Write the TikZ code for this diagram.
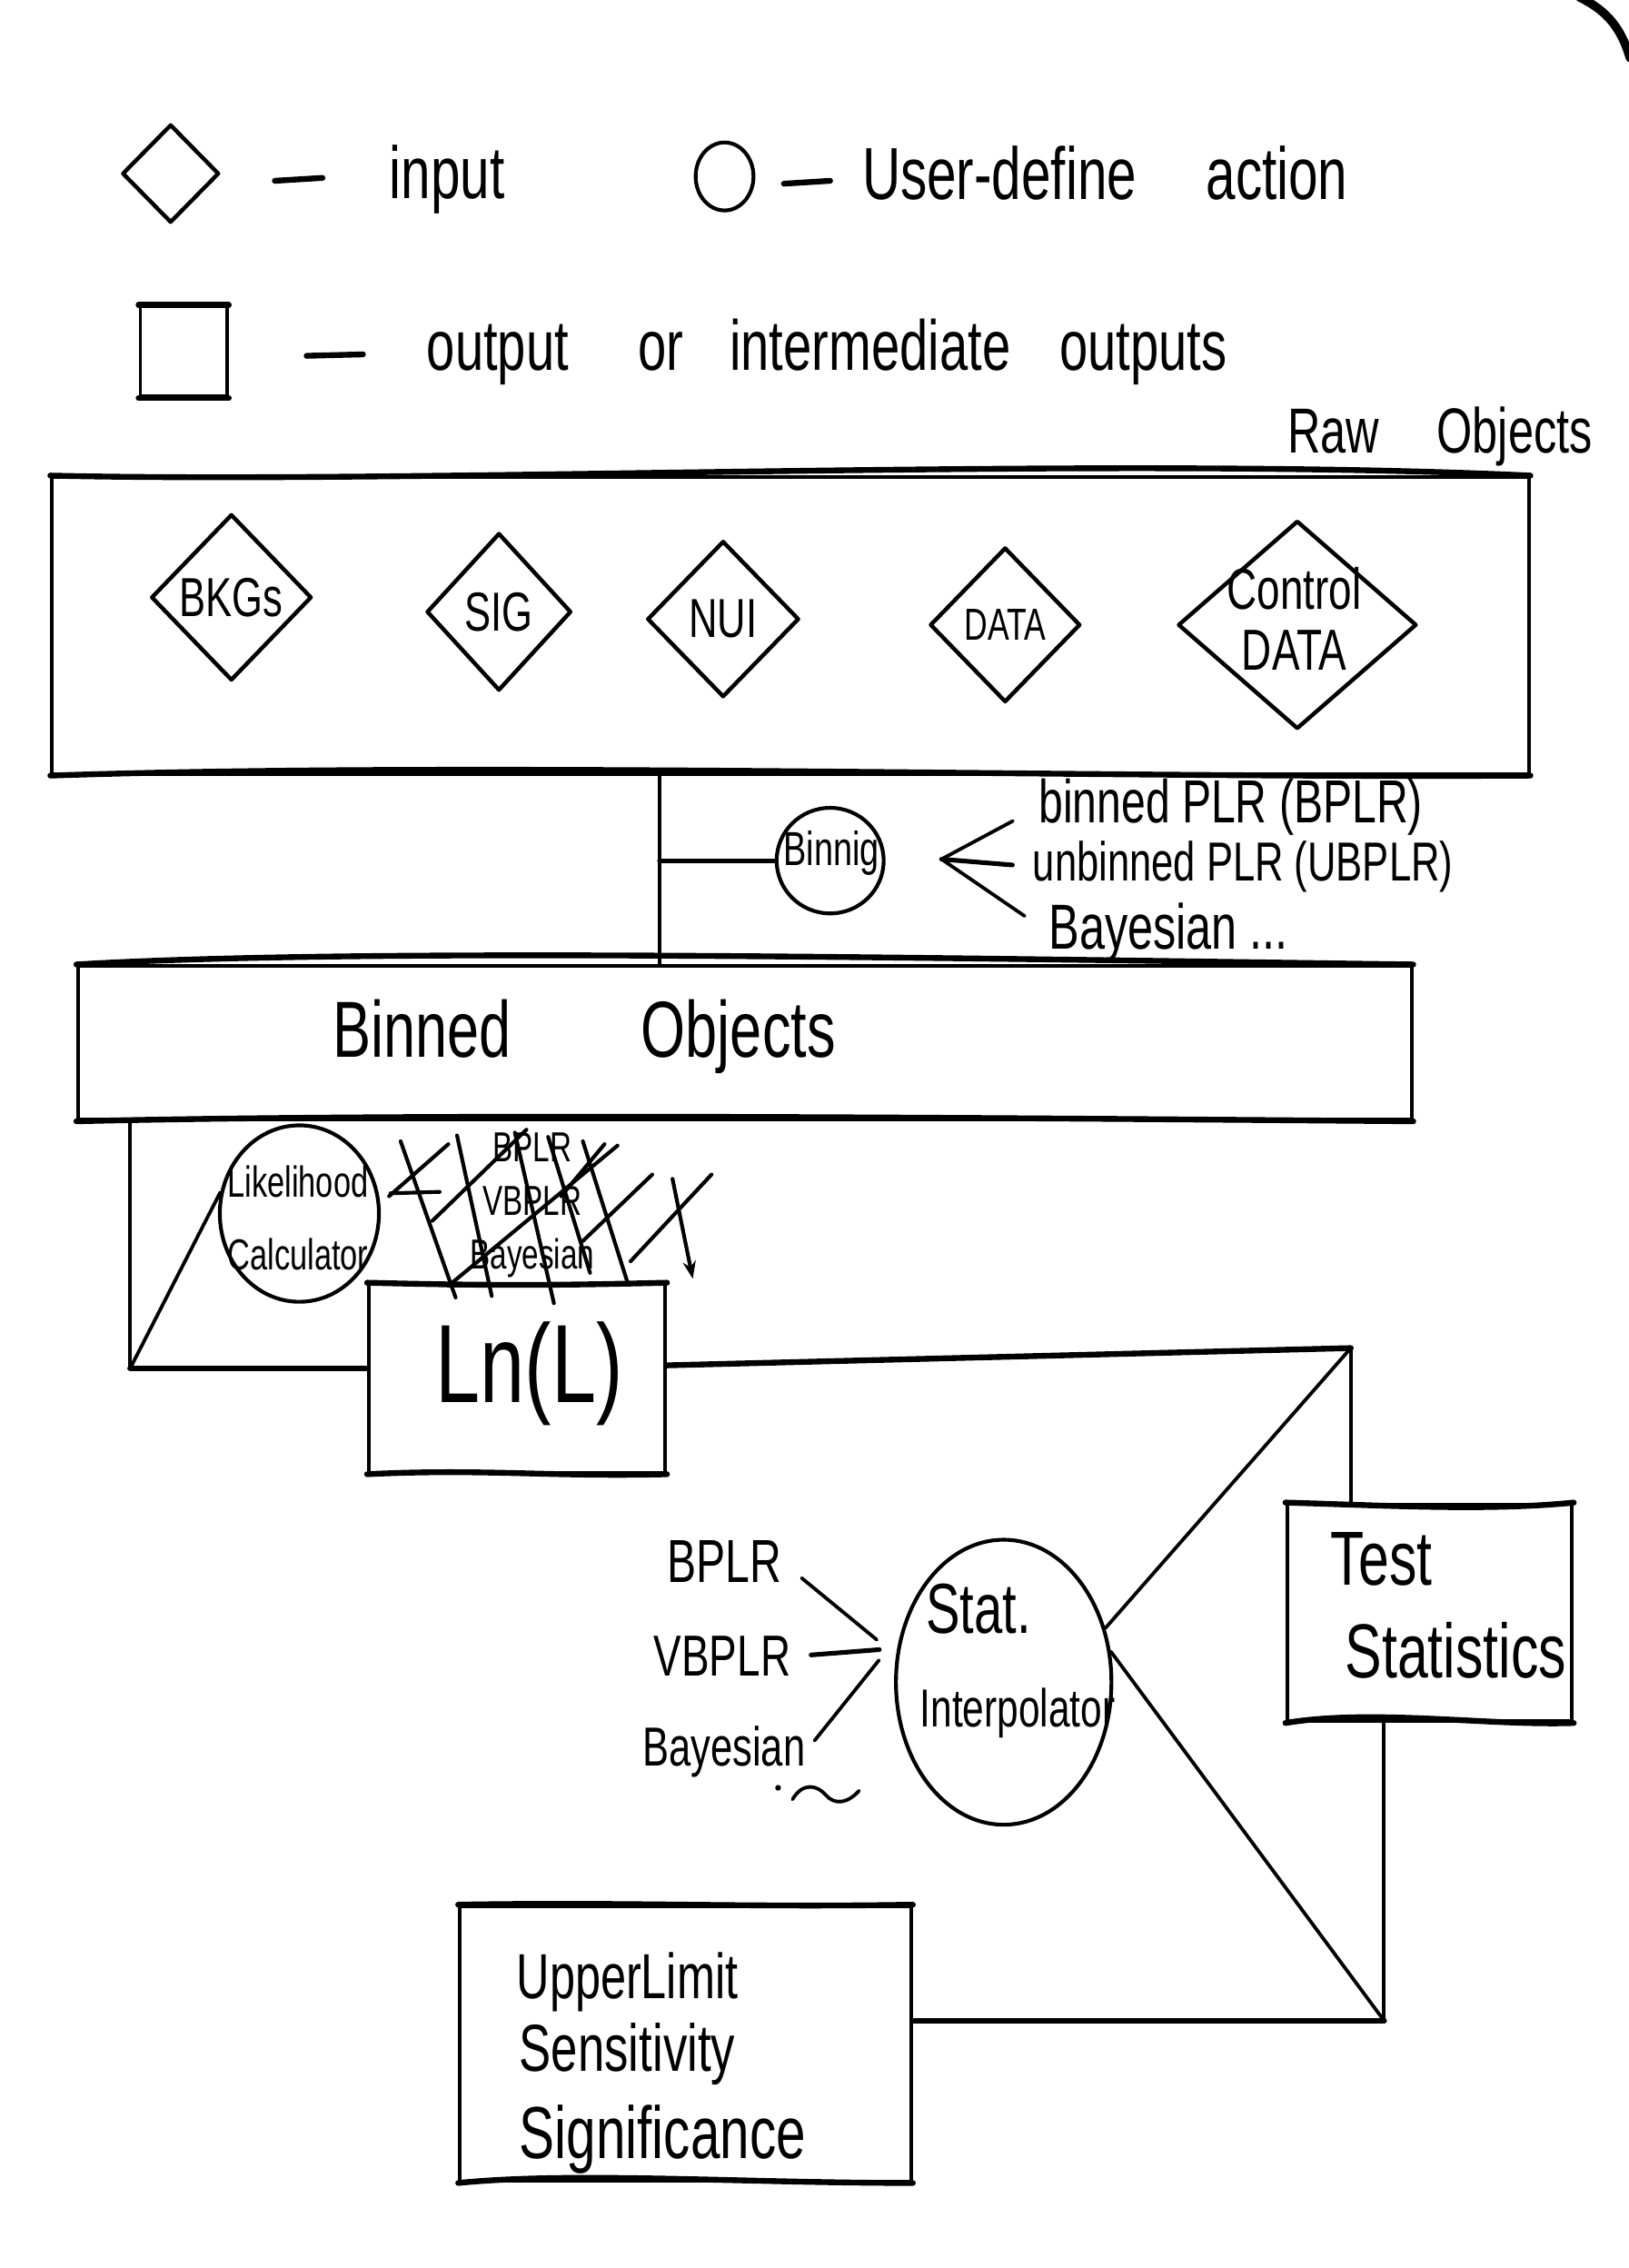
\documentclass[tikz,border=0pt]{standalone}
\usepackage{fontspec}
\setmainfont{Liberation Sans}[FakeStretch=0.72]
\usetikzlibrary{shapes.geometric,arrows.meta,calc}
\newcommand{\fsz}[2]{\fontsize{#1}{#2}\selectfont}
\tikzset{
  pen/.style={line width=2.4pt, line cap=round, line join=round},
  rim/.style={line width=4pt, line cap=round, line join=round},
  conn/.style={pen},
  inputd/.style={diamond, draw, line width=2.8pt, line join=round, inner sep=0pt},
  actione/.style={ellipse, draw, line width=2.6pt, inner sep=0pt},
  outbox/.style={rectangle, draw, pen, inner sep=0pt},
  txt/.style={inner sep=0pt, align=center},
  strike/.style={line width=2.6pt, line cap=round},
}
\begin{document}
\begin{tikzpicture}[x=1pt,y=-1pt]
\useasboundingbox (0,0) rectangle (1126,1568);

% ---------- legend ----------
\node[inputd, minimum width=67pt, minimum height=68pt] (legd) at (118,120) {};
\draw[rim] (190,125) -- (223,123);
\node[txt, font=\fsz{51}{57}, anchor=base west] (legin) at (269,137) {input};

\node[actione, minimum width=40pt, minimum height=47pt] (lego) at (501,122) {};
\draw[rim] (542,127) -- (574,125);
\node[txt, font=\fsz{51}{57}, anchor=base west] (legua) at (596,138) {User-define\hspace{48pt}action};

\node[outbox, minimum width=60pt, minimum height=62pt] (legs) at (127,243) {};
\draw[rim] (legs.north west) -- (legs.north east);
\draw[rim] (legs.south west) -- (legs.south east);
\draw[rim] (212,246) -- (251,245);
\node[txt, font=\fsz{49}{55}, anchor=base west] (legout) at (295,256)
  {output\hspace{48pt}or\hspace{32pt}intermediate\hspace{34pt}outputs};

% ---------- raw objects ----------
\node[txt, font=\fsz{44}{50}, anchor=base west] (rawt) at (890,313) {Raw\hspace{40pt}Objects};
\node[outbox, minimum width=1021pt, minimum height=205pt] (raw) at (546.5,432.5) {};
\draw[rim] (raw.north west) .. controls +(260,6) and +(-300,-14) .. (raw.north east);
\draw[rim] (raw.south west) .. controls +(300,-10) and +(-300,2) .. (raw.south east);

\node[inputd, minimum width=111pt, minimum height=115pt] (bkgs) at (160,413) {};
\node[txt, font=\fsz{38}{44}] (bkgst) at (bkgs) {BKGs};
\node[inputd, minimum width=100pt, minimum height=109pt] (sig) at (345,423) {};
\node[txt, font=\fsz{38}{44}] (sigt) at (sig) {SIG};
\node[inputd, minimum width=105pt, minimum height=108pt] (nui) at (500,428) {};
\node[txt, font=\fsz{38}{44}] (nuit) at (nui) {NUI};
\node[inputd, minimum width=104pt, minimum height=107pt] (data) at (695,432) {};
\node[txt, font=\fsz{31}{36}] (datat) at (data) {DATA};
\node[inputd, minimum width=165pt, minimum height=144pt] (cdata) at (897,432) {};
\node[txt, font=\fsz{40}{42}] (cdatat) at (895,428) {Control\\DATA};

% ---------- binning ----------
\node[actione, minimum width=74pt, minimum height=73pt] (binning) at (574,595) {};
\node[txt, font=\fsz{33}{37}] (binningt) at (575,590) {Binnig};
\node[txt, font=\fsz{42}{48}, anchor=base west] (t1) at (718,569) {binned PLR (BPLR)};
\node[txt, font=\fsz{38}{44}, anchor=base west] (t2) at (714,609) {unbinned PLR (UBPLR)};
\node[txt, font=\fsz{44}{50}, anchor=base west] (t3) at (725,656) {Bayesian ...};

% ---------- binned objects ----------
\node[outbox, minimum width=922pt, minimum height=106pt] (bin) at (515,721) {};
\draw[rim] (bin.north west) .. controls +(200,-12) and +(-300,-4) .. (bin.north east);
\draw[rim] (bin.south west) .. controls +(250,-6) and +(-250,-2) .. (bin.south east);
\node[txt, font=\fsz{55}{60}, anchor=base west] (bint) at (230,731) {Binned\hspace{90pt}Objects};

% ---------- likelihood ----------
\node[actione, minimum width=110pt, minimum height=122pt] (lc) at (207,839) {};
\node[txt, font=\fsz{30}{50}] (lct) at (206,842) {Likelihood\\Calculator};

\node[txt, font=\fsz{29}{37}] (xo) at (368,833) {BPLR\\VBPLR\\Bayesian};
\draw[strike] (277,789) -- (315,897);
\draw[strike] (269,827) -- (310,791);
\draw[strike] (270,825) -- (304,824);
\draw[strike] (316,785) -- (340,896);
\draw[strike] (299,844) -- (364,781);
\draw[strike] (310,889) -- (427,792);
\draw[strike] (356,783) -- (383,901);
\draw[strike] (379,786) -- (408,880);
\draw[strike] (388,827) -- (418,791);
\draw[strike] (403,858) -- (451,812);
\draw[strike] (403,789) -- (434,887);
\draw[strike] (436,872) -- (492,812);
\draw[strike, -{Stealth[length=12pt,width=9pt]}] (465,815) -- (479,884);

\node[outbox, minimum width=205pt, minimum height=130pt] (lnl) at (357.5,953) {};
\draw[rim] (lnl.north west) .. controls +(80,2) and +(-80,2) .. (lnl.north east);
\draw[rim] (lnl.south west) .. controls +(80,-4) and +(-80,2) .. (lnl.south east);
\node[txt, font=\fsz{77}{84}] (lnlt) at (366,950) {Ln(L)};

% ---------- test statistics ----------
\node[outbox, minimum width=197pt, minimum height=150pt] (ts) at (988.5,1115) {};
\draw[rim] (ts.north west) .. controls +(70,2) and +(-60,6) .. (ts.north east);
\draw[rim] (ts.south west) .. controls +(60,-10) and +(-60,2) .. (ts.south east);
\node[txt, font=\fsz{53}{58}, anchor=base west] (tst1) at (920,1096) {Test};
\node[txt, font=\fsz{53}{58}, anchor=base west] (tst2) at (930,1160) {Statistics};

% ---------- stat interpolator ----------
\node[actione, minimum width=149pt, minimum height=197pt] (si) at (694,1163) {};
\node[txt, font=\fsz{49}{54}, anchor=base west] (sit1) at (640,1129) {Stat.};
\node[txt, font=\fsz{37}{42}, anchor=base west] (sit2) at (636,1194) {Interpolator};

\node[txt, font=\fsz{42}{48}, anchor=base west] (bp) at (461,1094) {BPLR};
\node[txt, font=\fsz{40}{46}, anchor=base west] (vb) at (452,1159) {VBPLR};
\node[txt, font=\fsz{38}{44}, anchor=base west] (ba) at (444,1221) {Bayesian};
\fill (538,1236) circle (2pt);
\draw[pen] (548,1244) .. controls (555,1232) and (565,1234) .. (571,1241)
           .. controls (577,1248) and (586,1247) .. (594,1238);

% ---------- upper limit ----------
\node[outbox, minimum width=312pt, minimum height=190pt] (ul) at (474,1413) {};
\draw[rim] (ul.north west) .. controls +(120,-2) and +(-120,2) .. (ul.north east);
\draw[rim] (ul.south west) .. controls +(80,-8) and +(-120,0) .. (ul.south east);
\node[txt, font=\fsz{44}{50}, anchor=base west] (ult1) at (357,1382) {UpperLimit};
\node[txt, font=\fsz{46}{52}, anchor=base west] (ult2) at (359,1432) {Sensitivity};
\node[txt, font=\fsz{51}{57}, anchor=base west] (ult3) at (359,1492) {Significance};

% ---------- connectors ----------
\coordinate (j1) at (456,0);
\draw[conn] (j1 |- raw.south) -- (j1 |- bin.north);
\draw[conn, line width=3.2pt] (j1 |- binning) -- (binning.west);
\coordinate (fk) at (651,594);
\draw[conn, shorten <=20pt, shorten >=20pt] (t1.west) -- (fk) -- (t3.west);
\draw[conn, line width=3.2pt, shorten >=14pt] (fk) -- (t2.west);

\coordinate (j4) at (90,946);
\draw[conn] (j4 |- bin.south) -- (j4);
\draw[rim] (j4) -- (j4 -| lnl.west);
\draw[conn] (j4) -- (lc.165);

\coordinate (j5) at (934,932);
\draw[rim] (lnl.5) -- (j5);
\draw[conn] (j5) -- (j5 |- ts.north);
\draw[conn] (j5) -- (si.28);

\coordinate (j6) at (957,1397);
\draw[conn] (j6 |- ts.south) -- (j6);
\draw[conn] (si.16) -- (j6);
\draw[rim] (j6) -- (j6 -| ul.east);

\coordinate (sc) at (614,1140);
\draw[conn, shorten <=18pt, shorten >=10pt] (bp.east) -- (sc);
\draw[conn, line width=3.2pt, shorten <=14pt, shorten >=6pt] (vb.east) -- (sc);
\draw[conn, shorten <=10pt, shorten >=10pt] (ba.east) -- (sc);

% paper corner
\draw[line width=6pt, line cap=round] (1092,-2) .. controls (1108,6) and (1120,16) .. (1127,40);
\end{tikzpicture}
\end{document}
